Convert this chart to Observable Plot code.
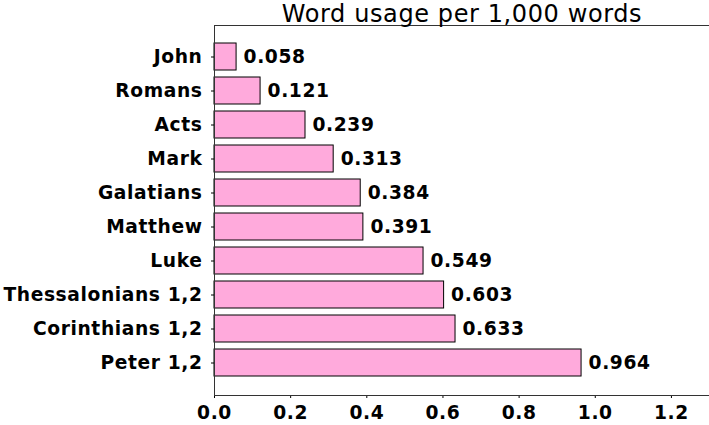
<!DOCTYPE html>
<html><head><meta charset="utf-8">
<script src="https://cdn.jsdelivr.net/npm/d3@7"></script>
<script src="https://cdn.jsdelivr.net/npm/@observablehq/plot@0.6"></script>
<style>
body{margin:0;background:#fff}
svg text{letter-spacing:0.6px}
g[aria-label="title"] text{letter-spacing:0}
</style>
</head><body><div id="chart"></div>
<script>
const books = ["John","Romans","Acts","Mark","Galatians","Matthew","Luke","Thessalonians 1,2","Corinthians 1,2","Peter 1,2"];
const usage = [0.058,0.121,0.239,0.313,0.384,0.391,0.549,0.603,0.633,0.964];
const xTicks = [0,0.2,0.4,0.6,0.8,1.0,1.2];
const title = "Word usage per 1,000 words";

const data = books.map((b,i)=>({book:b, value:usage[i]}));

const chart = Plot.plot({
  width:709, height:425,
  marginLeft:214, marginRight:0, marginTop:25, marginBottom:30,
  style:{fontFamily:"'DejaVu Sans', Verdana, sans-serif", fontSize:"18.67px", fontWeight:"bold", color:"#000", background:"#fff", overflow:"visible"},
  x:{domain:[0,1.3], ticks:xTicks, tickFormat:d=>d.toFixed(1), tickSize:3, tickPadding:7, label:null},
  y:{domain:books, paddingInner:0.2, paddingOuter:0.5, tickSize:3, tickPadding:9, label:null},
  marks:[
    Plot.barX(data,{x:"value", y:"book", fill:"#ffaadc", stroke:"#000", strokeWidth:1}),
    Plot.text(data,{x:"value", y:"book", text:d=>d.value.toFixed(3), textAnchor:"start", dx:7, fill:"#000"}),
    Plot.frame({anchor:"top", stroke:"#333"}),
    Plot.frame({anchor:"bottom", stroke:"#333"}),
    Plot.frame({anchor:"left", stroke:"#333"}),
    Plot.text([title],{text:d=>d, frameAnchor:"top", dy:-4, lineAnchor:"bottom", fontSize:24, fontWeight:"normal", fill:"#000", ariaLabel:"title"})
  ]
});
document.getElementById("chart").appendChild(chart);
</script>
</body></html>
